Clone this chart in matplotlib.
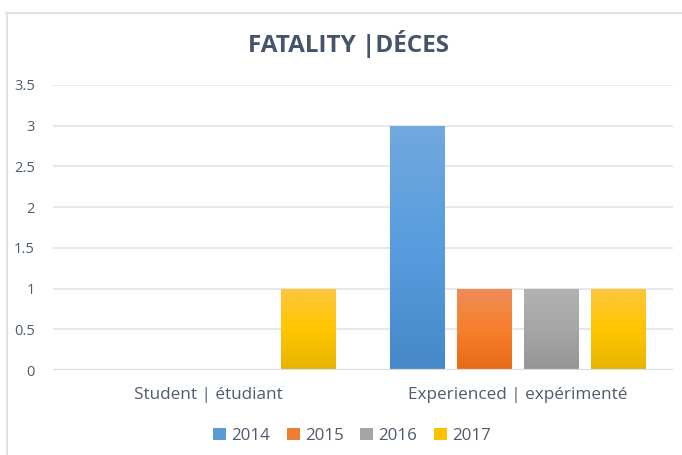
import numpy as np
import matplotlib.pyplot as plt
from matplotlib.patches import Patch
from matplotlib.lines import Line2D
from matplotlib.colors import LinearSegmentedColormap

categories = ['Student | étudiant', 'Experienced | expérimenté']
years = ['2014', '2015', '2016', '2017']
values = {
    '2014': [0, 3],
    '2015': [0, 1],
    '2016': [0, 1],
    '2017': [1, 1],
}
yticks = [0, 0.5, 1, 1.5, 2, 2.5, 3, 3.5]

# top, middle, bottom colours of each bar gradient
grad = {
    '2014': ['#72a8de', '#579ddf', '#4688c8'],
    '2015': ['#f08c5a', '#f6802c', '#e66a17'],
    '2016': ['#b2b2b2', '#a6a6a6', '#959595'],
    '2017': ['#ffc63c', '#ffc600', '#e6b400'],
}
solid = {'2014': '#5b9bd5', '2015': '#ed7d31', '2016': '#a5a5a5', '2017': '#ffc000'}

plt.rcParams['font.family'] = ['Open Sans', 'DejaVu Sans']
txt = '#4f5b6b'

fig = plt.figure(figsize=(6.82, 4.55), dpi=100)
ax = fig.add_axes([53 / 682, 1 - 370 / 455, 620 / 682, 285 / 455])

x = np.arange(len(categories))
w = 0.177
pitch = 0.216
for i, yr in enumerate(years):
    pos = x + (i - 1.5) * pitch
    bars = ax.bar(pos, values[yr], width=w, color=solid[yr], zorder=2)
    cmap = LinearSegmentedColormap.from_list(yr, grad[yr][::-1])
    for b in bars:
        if b.get_height() <= 0:
            b.set_visible(False)
            continue
        bx, by = b.get_x(), b.get_y()
        im = ax.imshow(np.linspace(0, 1, 256).reshape(-1, 1), cmap=cmap,
                       extent=[bx, bx + b.get_width(), by, by + b.get_height()],
                       origin='lower', aspect='auto', zorder=3)
        im.set_clip_path(b)

ax.set_xlim(-0.5, 1.5)
ax.set_ylim(0, 3.5)
ax.set_yticks(yticks)
ax.set_yticklabels(['0', '0.5', '1', '1.5', '2', '2.5', '3', '3.5'])
ax.set_xticks(x)
ax.set_xticklabels(categories)
ax.tick_params(axis='y', length=0, labelsize=10.5, colors=txt, pad=13)
ax.tick_params(axis='x', length=0, labelsize=12.3, colors=txt, pad=12)
for s in ax.spines.values():
    s.set_visible(False)
ax.grid(axis='y', color='#e1e4ea', linewidth=1.2, zorder=0)
ax.axhline(0, color='#d9dce2', linewidth=1.6, zorder=4)
ax.set_axisbelow(True)

fig.text(349 / 682, 1 - 44 / 455, 'FATALITY |DÉCES', ha='center', va='center',
         fontsize=17.5, fontweight='bold', color='#44546a')

handles = [Patch(facecolor=solid[yr], label=yr) for yr in years]
fig.legend(handles=handles, loc='center', bbox_to_anchor=(352 / 682, 1 - 436 / 455),
           ncol=4, frameon=False, fontsize=12.2, labelcolor=txt,
           handlelength=0.75, handleheight=0.75, handletextpad=0.3, columnspacing=1.0)

fig.add_artist(Line2D([6.5 / 682, 6.5 / 682], [0, 1 - 13 / 455], color='#dfe3e8', linewidth=1.5))
fig.add_artist(Line2D([6 / 682, 1], [1 - 13 / 455, 1 - 13 / 455], color='#dfe3e8', linewidth=1.5))

fig.savefig('out.png', dpi=100)
